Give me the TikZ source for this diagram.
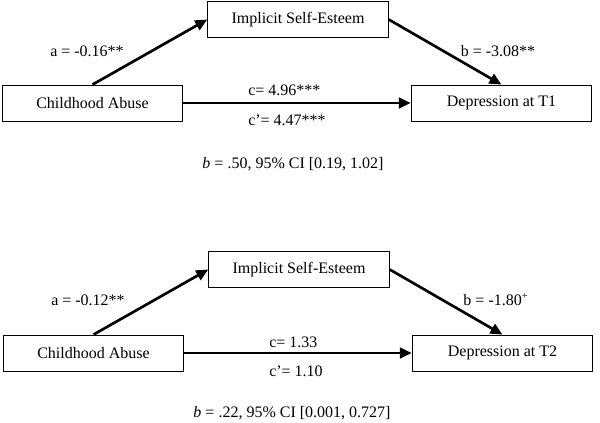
\documentclass[tikz,border=0pt]{standalone}
\usepackage{fontspec}
\setmainfont{Liberation Serif}
\usetikzlibrary{arrows.meta}

\tikzset{
  var/.style={draw,line width=0.6pt,minimum width=135.5pt,minimum height=27pt,inner sep=0pt,font=\fontsize{12}{14}\selectfont},
  path/.style={line width=2pt,-{Triangle[length=9pt,width=8pt]}},
  coef/.style={font=\fontsize{12}{14}\selectfont,inner sep=0pt}
}

\begin{document}
\begin{tikzpicture}[x=0.75pt,y=-0.75pt]
\useasboundingbox (0,0) rectangle (600,423);

% top panel: T1
\begin{scope}
\node[var] (abuse) at (92.5,103) {Childhood Abuse};
\node[var] (ise) at (298,19.5) {Implicit Self-Esteem};
\node[var] (dep) at (501.5,103) {Depression at T1};

\draw[path] (abuse.north) -- (ise.west);
\draw[path] (ise.east) -- (dep.north);
\draw[path] (abuse.east) -- (dep.west);

\node[coef] (la) at (87,51) {a = -0.16**};
\node[coef] (lb) at (498,51) {b = -3.08**};
\node[coef,anchor=west] (lc) at (248,90) {c= 4.96***};
\node[coef,anchor=west] (lcp) at (248,120) {c’= 4.47***};
\node[coef] (ind) at (293,164) {\emph{b} = .50, 95\% CI [0.19, 1.02]};
\end{scope}

% bottom panel: T2
\begin{scope}[shift={(1,250)}]
\node[var] (abuse2) at (92.5,103) {Childhood Abuse};
\node[var] (ise2) at (298,19.5) {Implicit Self-Esteem};
\node[var] (dep2) at (501.5,103) {Depression at T2};

\draw[path] (abuse2.north) -- (ise2.west);
\draw[path] (ise2.east) -- (dep2.north);
\draw[path] (abuse2.east) -- (dep2.west);

\node[coef] (la2) at (87,50) {a = -0.12**};
\node[coef] (lb2) at (495,50) {b = -1.80\textsuperscript{+}};
\node[coef,anchor=west] (lc2) at (268,92) {c= 1.33};
\node[coef,anchor=west] (lcp2) at (268,121) {c’= 1.10};
\node[coef] (ind2) at (291,163) {\emph{b} = .22, 95\% CI [0.001, 0.727]};
\end{scope}

\end{tikzpicture}
\end{document}
